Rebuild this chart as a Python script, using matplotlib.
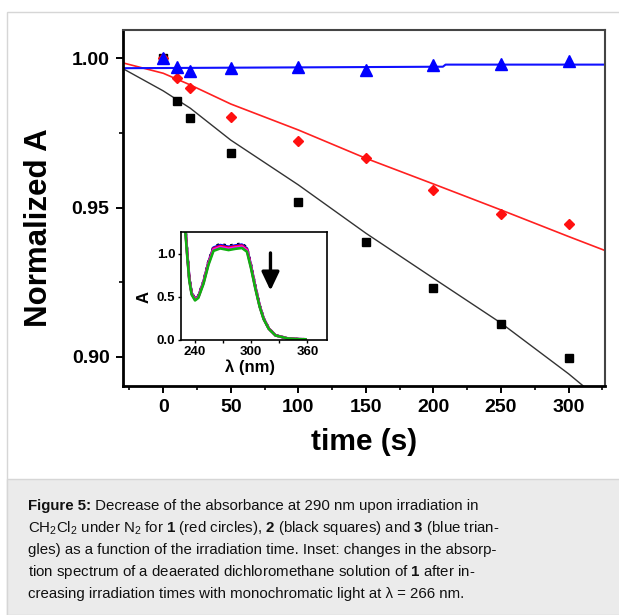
import matplotlib
matplotlib.use('Agg')
import matplotlib.pyplot as plt
from matplotlib.patches import Rectangle
from matplotlib.ticker import MultipleLocator

plt.rcParams['font.family'] = ['Liberation Sans', 'DejaVu Sans']
plt.rcParams['mathtext.fontset'] = 'custom'
plt.rcParams['mathtext.rm'] = 'Liberation Sans'
plt.rcParams['mathtext.bf'] = 'Liberation Sans:bold'
plt.rcParams['mathtext.it'] = 'Liberation Sans:italic'

W, H = 619, 615

# normalized absorbance at 290 nm vs irradiation time
time_s = [0, 10, 20, 50, 100, 150, 200, 250, 300]
abs_1 = [1.000, 0.9933, 0.9900, 0.9802, 0.9723, 0.9665, 0.9559, 0.9480, 0.9444]  # red
abs_2 = [1.000, 0.9858, 0.9801, 0.9682, 0.9520, 0.9385, 0.9230, 0.9109, 0.8995]  # black
abs_3 = [1.000, 0.9970, 0.9959, 0.9969, 0.9972, 0.9961, 0.9978, 0.9982, 0.9991]  # blue

# fitted curves
fit1_t = [-30, 0, 20, 50, 100, 150, 200, 250, 300, 327]
fit1_y = [0.9985, 0.9950, 0.9911, 0.9847, 0.9760, 0.9665, 0.9579, 0.9492, 0.9403, 0.9356]
fit2_t = [-30, 0, 20, 50, 100, 150, 200, 250, 300, 312]
fit2_y = [0.9966, 0.9891, 0.9833, 0.9726, 0.9576, 0.9414, 0.9263, 0.9113, 0.8943, 0.8898]
fit3_t = [-30, 207, 209, 327]
fit3_y = [0.9967, 0.9972, 0.9979, 0.9979]

# inset: absorption spectrum of 1 (first trace) and relative peak heights of later traces
wl = [229, 230.3, 231.7, 233.9, 236.4, 240, 243.5, 249, 254.3, 259.7, 266.9, 275.8,
      283, 290.1, 295.5, 299.8, 304.5, 309.1, 313.4, 318.8, 326, 338.5, 350, 358]
spec0 = [1.40, 1.22, 1.01, 0.72, 0.55, 0.48, 0.51, 0.68, 0.91, 1.08, 1.11, 1.09,
         1.105, 1.115, 1.07, 0.87, 0.62, 0.40, 0.25, 0.135, 0.055, 0.02, 0.01, 0.008]
spec_scale = [1.00, 0.99, 0.98, 0.97, 0.955]
spec_colors = ['black', 'blue', 'red', 'magenta', '#10b010']

fig = plt.figure(figsize=(W / 100, H / 100), dpi=100)

# page frame and caption panel
fig.patches.append(Rectangle((7 / W, 0), 1, (H - 12) / H, transform=fig.transFigure,
                             facecolor='white', edgecolor='#d6d6d6', lw=1, zorder=-10))
fig.patches.append(Rectangle((7 / W, 0), 1, (H - 479) / H, transform=fig.transFigure,
                             facecolor='#ebebeb', edgecolor='#d6d6d6', lw=1, zorder=-9))

ax = fig.add_axes([122.7 / W, 1 - 386 / H, (605 - 122.7) / W, (386 - 30) / H])
ax.plot(fit2_t, fit2_y, color='#333333', lw=1.0)
ax.plot(fit1_t, fit1_y, color='#ff2020', lw=1.2)
ax.plot(fit3_t, fit3_y, color='#1010ff', lw=1.5)
ax.plot(time_s, abs_2, 's', color='black', ms=6, ls='none')
ax.plot(time_s, abs_1, 'D', color='#ff1010', ms=5.5, ls='none')
ax.plot(time_s, abs_3, '^', color='#0000ff', ms=8.5, ls='none')

ax.set_xlim(-30, 327)
ax.set_ylim(0.8902, 1.0095)
ax.xaxis.set_major_locator(MultipleLocator(50))
ax.xaxis.set_minor_locator(MultipleLocator(25))
ax.yaxis.set_major_locator(MultipleLocator(0.05))
ax.yaxis.set_minor_locator(MultipleLocator(0.025))
ax.set_xticks(range(0, 301, 50))
ax.set_yticks([0.90, 0.95, 1.00])
ax.set_yticklabels(['0.90', '0.95', '1.00'])
ax.tick_params(which='major', direction='out', length=5, width=1.4, pad=4.5, labelsize=14)
ax.tick_params(which='minor', direction='out', length=3, width=1.2)
for lab in ax.get_xticklabels() + ax.get_yticklabels():
    lab.set_fontweight('bold')
for s in ['left', 'bottom']:
    ax.spines[s].set_linewidth(2.0)
for s in ['top', 'right']:
    ax.spines[s].set_linewidth(1.5)
    ax.spines[s].set_color('#444444')

ax.set_xlabel('time (s)', fontsize=21.5, fontweight='bold')
ax.set_ylabel('Normalized A', fontsize=22.5, fontweight='bold')
ax.xaxis.set_label_coords(0.5, -0.118)
ax.yaxis.set_label_coords(-0.1735, 0.444)
ax.yaxis.label.set_va('center')

# inset
axi = fig.add_axes([181 / W, 1 - 340 / H, 146 / W, 108 / H])
for k, c in zip(spec_scale, spec_colors):
    ls = ':' if c == 'black' else '-'
    axi.plot(wl, [a * k for a in spec0], color=c, lw=1.9, ls=ls)
axi.annotate('', xy=(320.6, 0.54), xytext=(320.6, 1.04),
             arrowprops=dict(arrowstyle='-|>,head_length=0.8,head_width=0.38',
                             color='black', lw=2.4, mutation_scale=14))
axi.set_xlim(225, 381)
axi.set_ylim(0, 1.25)
axi.set_xticks([240, 300, 360])
axi.xaxis.set_minor_locator(MultipleLocator(30))
axi.set_yticks([0.0, 0.5, 1.0])
axi.set_yticklabels(['0.0', '0.5', '1.0'])
axi.tick_params(which='both', direction='out', length=2.5, width=1, pad=1.5, labelsize=9.5)
for lab in axi.get_xticklabels() + axi.get_yticklabels():
    lab.set_fontweight('bold')
for s in axi.spines.values():
    s.set_linewidth(1.2)
axi.set_xlabel('λ (nm)', fontsize=12, fontweight='bold')
axi.set_ylabel('A', fontsize=12, fontweight='bold')
axi.xaxis.set_label_coords(0.47, -0.18)
axi.yaxis.set_label_coords(-0.25, 0.40)
axi.yaxis.label.set_va('center')

# caption
cap_size = 10.8
x0 = 28 / W
renderer = fig.canvas.get_renderer()
t1 = fig.text(x0, 1 - 510 / H, 'Figure 5:', fontsize=cap_size, fontweight='bold',
              va='baseline', color='#111111')
bb = t1.get_window_extent(renderer)
fig.text(bb.x1 / W, 1 - 510 / H, ' Decrease of the absorbance at 290 nm upon irradiation in',
         fontsize=cap_size, va='baseline', color='#111111')
cap_lines = [
    r'CH$_2$Cl$_2$ under N$_2$ for $\mathbf{1}$ (red circles), $\mathbf{2}$ (black squares) and $\mathbf{3}$ (blue trian-',
    'gles) as a function of the irradiation time. Inset: changes in the absorp-',
    r'tion spectrum of a deaerated dichloromethane solution of $\mathbf{1}$ after in-',
    'creasing irradiation times with monochromatic light at λ = 266 nm.',
]
for i, line in enumerate(cap_lines):
    fig.text(x0, 1 - (532 + 22 * i) / H, line, fontsize=cap_size, va='baseline',
             color='#111111')

fig.savefig('out.png', dpi=100)
